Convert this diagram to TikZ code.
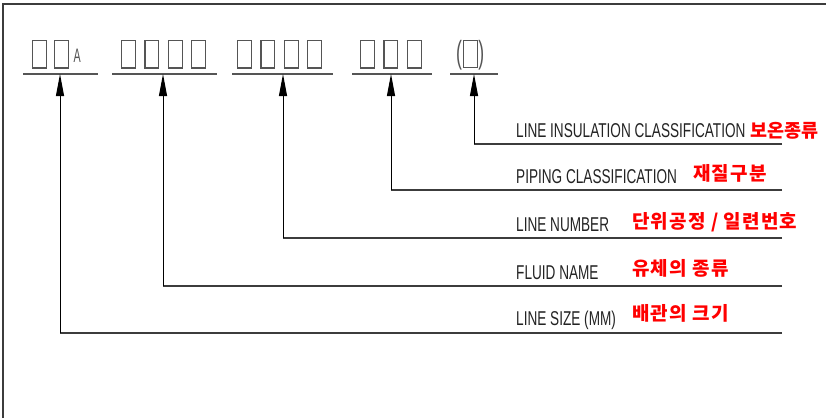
\documentclass[tikz,border=0pt]{standalone}
\usepackage{fontspec}
\usetikzlibrary{arrows.meta}
\newfontfamily\cadfont[FakeStretch=0.68]{Liberation Sans}
\newfontfamily\cadnarrow[FakeStretch=0.55]{Liberation Sans}
\newfontfamily\krfont[LetterSpace=6]{Noto Sans CJK KR}
\newfontfamily\krtight{Noto Sans CJK KR}
\definecolor{framegray}{RGB}{60,60,60}
\definecolor{boxgray}{RGB}{85,85,85}
\definecolor{txtgray}{RGB}{35,35,35}
\definecolor{krred}{RGB}{255,0,0}
\newcommand\phb{{\setlength\fboxsep{0pt}\setlength\fboxrule{1.2pt}\textcolor{boxgray}{\fbox{\rule{0pt}{26pt}\hspace{12.6pt}}}}}
\newcommand\gap{\hspace{8.4pt}}
\tikzset{
  grp/.style={inner sep=0pt, outer sep=0pt},
  uline/.style={line width=2pt, draw=boxgray},
  hline/.style={line width=2pt, draw=framegray},
  conn/.style={line width=1pt, draw=black, -{Triangle[length=22pt,width=8pt]}},
  entext/.style={inner sep=0pt, anchor=base west, text=txtgray, font=\fontsize{20}{20}\cadfont},
  krtext/.style={inner sep=0pt, anchor=base west, text=krred, font=\fontsize{19}{19}\krfont\bfseries},
  krtighttext/.style={inner sep=0pt, anchor=base west, text=krred, font=\fontsize{18.5}{18.5}\krtight\bfseries},
  frame/.style={line width=2pt, draw=framegray}
}
\begin{document}
\begin{tikzpicture}[x=1pt,y=-1pt]
\useasboundingbox (0,0) rectangle (826,418);
\draw[frame] (3,418) -- (3,4) -- (826,4);
% placeholder groups
\node[grp, anchor=south west] (g1) at (32,68.5) {\phb\hspace{7pt}\phb\hspace{4.5pt}\raisebox{5pt}{\fontsize{19.5}{19.5}\cadnarrow\color{boxgray}A}};
\node[grp, anchor=south west] (g2) at (121,68.5) {\phb\gap\phb\gap\phb\gap\phb};
\node[grp, anchor=south west] (g3) at (237,68.5) {\phb\gap\phb\gap\phb\gap\phb};
\node[grp, anchor=south west] (g4) at (360,68.5) {\phb\gap\phb\gap\phb};
\node[grp, anchor=base west] (g5) at (456,63.3) {\fontsize{32}{32}\cadnarrow\color{boxgray}(\hspace{1pt}\raisebox{-3.5pt}{\phb}\hspace{0.5pt})};
% underlines
\coordinate (u1a) at (23,74); \coordinate (u1b) at (98,74);
\coordinate (u2a) at (112,74); \coordinate (u2b) at (217,74);
\coordinate (u3a) at (232,74); \coordinate (u3b) at (333,74);
\coordinate (u4a) at (352,74); \coordinate (u4b) at (432,74);
\coordinate (u5a) at (450,74); \coordinate (u5b) at (498,74);
\draw[uline] (u1a) -- (u1b);
\draw[uline] (u2a) -- (u2b);
\draw[uline] (u3a) -- (u3b);
\draw[uline] (u4a) -- (u4b);
\draw[uline] (u5a) -- (u5b);
% arrow tips
\coordinate (t1) at (60,74);
\coordinate (t2) at (163,74);
\coordinate (t3) at (283,74);
\coordinate (t4) at (391,74);
\coordinate (t5) at (474,74);
% corners and ends
\coordinate (c5) at (474,144); \coordinate (e5) at (782,144);
\coordinate (c4) at (391,190); \coordinate (e4) at (782,190);
\coordinate (c3) at (283,238); \coordinate (e3) at (782,238);
\coordinate (c2) at (163,286); \coordinate (e2) at (782,286);
\coordinate (c1) at (60,333); \coordinate (e1) at (782,333);
\foreach \i in {1,...,5}{
  \draw[hline] (e\i) -- (c\i);
  \draw[conn] (c\i) -- (t\i);
}
% labels
\node[entext] (l5) at (516,137) {LINE INSULATION CLASSIFICATION};
\node[krtighttext] (k5) at (750,137) {보온종류};
\node[entext] (l4) at (516,183) {PIPING CLASSIFICATION};
\node[krtext] (k4) at (693,180.5) {재질구분};
\node[entext] (l3) at (516,231) {LINE NUMBER};
\node[krtext] (k3) at (632,228) {단위공정 / 일련번호};
\node[entext] (l2) at (516,279) {FLUID NAME};
\node[krtext] (k2) at (632,275) {유체의 종류};
\node[entext] (l1) at (516,325) {LINE SIZE (MM)};
\node[krtext] (k1) at (632,320) {배관의 크기};
\end{tikzpicture}
\end{document}
